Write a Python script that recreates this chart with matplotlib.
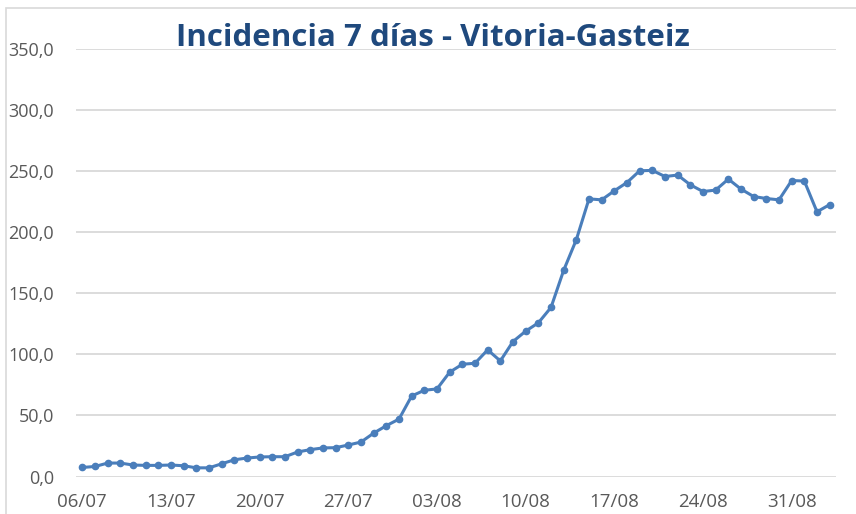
import matplotlib.pyplot as plt
from matplotlib.patches import Rectangle
import numpy as np

# incidencia acumulada 7 dias, 06/07 -> 03/09
fechas = ['06/07', '07/07', '08/07', '09/07', '10/07', '11/07', '12/07',
          '13/07', '14/07', '15/07', '16/07', '17/07', '18/07', '19/07',
          '20/07', '21/07', '22/07', '23/07', '24/07', '25/07', '26/07',
          '27/07', '28/07', '29/07', '30/07', '31/07', '01/08', '02/08',
          '03/08', '04/08', '05/08', '06/08', '07/08', '08/08', '09/08',
          '10/08', '11/08', '12/08', '13/08', '14/08', '15/08', '16/08',
          '17/08', '18/08', '19/08', '20/08', '21/08', '22/08', '23/08',
          '24/08', '25/08', '26/08', '27/08', '28/08', '29/08', '30/08',
          '31/08', '01/09', '02/09', '03/09']
incidencia = [7.4, 8.2, 11.0, 11.0, 9.4, 9.1, 9.1, 9.4, 8.8, 7.1,
              7.1, 10.4, 13.7, 15.1, 16.0, 16.2, 16.2, 20.1, 22.0, 23.4,
              23.6, 25.8, 28.2, 35.5, 41.6, 47.0, 65.9, 70.6, 71.7, 85.4,
              91.9, 92.7, 103.7, 94.6, 110.5, 119.0, 125.8, 138.4, 168.8, 193.9,
              227.3, 226.5, 233.9, 240.7, 250.3, 250.6, 245.6, 246.8, 238.8, 233.3,
              234.5, 243.5, 235.3, 229.2, 227.6, 226.5, 242.3, 241.9, 216.7, 222.6]
yticks = [0, 50, 100, 150, 200, 250, 300, 350]

plt.rcParams['font.family'] = ['Open Sans', 'DejaVu Sans']

fig = plt.figure(figsize=(8.56, 5.14), dpi=100)
ax = fig.add_axes([76/856, 1 - 476.5/514, 760/856, 427.5/514])

x = np.arange(len(fechas))
ax.plot(x, incidencia, color='#4A7EBB', lw=2.2, marker='o', ms=4.5,
        zorder=3, clip_on=False)

ax.set_xlim(-0.5, len(fechas) - 0.5)
ax.set_ylim(0, 350)
ax.set_yticks(yticks)
ax.set_yticklabels([f'{v:.1f}'.replace('.', ',') for v in yticks])
ax.set_xticks(x[::7])
ax.set_xticklabels(fechas[::7])
ax.tick_params(length=0, colors='#595959')
ax.tick_params(axis='y', pad=16, labelsize=13)
ax.tick_params(axis='x', pad=12, labelsize=13.5)
ax.grid(axis='y', color='#D9D9D9', lw=1.3)
ax.set_axisbelow(True)
for s in ax.spines.values():
    s.set_visible(False)

fig.text(0.506, 1 - 38/514, 'Incidencia 7 días - Vitoria-Gasteiz',
         ha='center', va='center', fontsize=22.5, fontweight='bold',
         color='#1F497D')

fig.patches.append(Rectangle((6/856, -0.1), 1.2, 1.1 - 8/514,
                             transform=fig.transFigure, fill=False,
                             edgecolor='#D9D9D9', lw=1.2))

fig.savefig('out.png', dpi=100)
